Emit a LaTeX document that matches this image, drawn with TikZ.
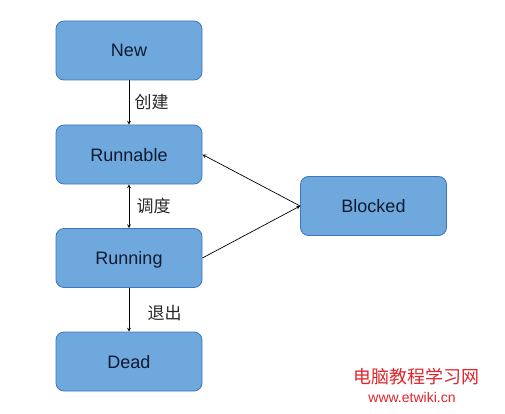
\documentclass[tikz,border=0pt]{standalone}
\usepackage{fontspec}
\setmainfont{Liberation Sans}
\newfontfamily\cjk{Noto Sans CJK SC}
\usetikzlibrary{arrows}
\usetikzlibrary{calc}

\definecolor{boxfill}{HTML}{6FA8DC}
\definecolor{boxline}{HTML}{3D78BE}
\definecolor{boxtext}{HTML}{101A30}
\definecolor{markred}{HTML}{E0242B}

\tikzset{
  state/.style={draw=boxline, fill=boxfill, rounded corners=8pt, line width=0.8pt,
    minimum width=146pt, minimum height=59pt, inner sep=0pt, text=boxtext,
    text height=13pt, text depth=0pt,
    font=\fontsize{18}{20}\selectfont},
  trans/.style={line width=0.7pt, ->, >=stealth},
  translabel/.style={font=\cjk\fontsize{17}{19}\selectfont, text=black!85}
}

\begin{document}
\begin{tikzpicture}[x=1pt,y=-1pt]
        \useasboundingbox (0,0) rectangle (505,414);

        \node[state] (new) at (129,50.5) {New};
        \node[state] (runnable) at (129,154.5) {Runnable};
        \node[state] (running) at (129,258) {Running};
        \node[state] (dead) at (129,361.5) {Dead};
        \node[state] (blocked) at (373.5,206) {Blocked};

        \draw[trans] (new) -- (runnable) node[translabel,midway,right,xshift=2pt] {创建};
        \draw[trans,<->] (runnable) -- (running) node[translabel,midway,right,xshift=4pt] {调度};
        \draw[trans] (running) -- (dead) node[translabel,midway,right,xshift=15pt,yshift=-3pt] {退出};

        \draw[trans] (blocked.west) -- (runnable.east);
        \draw[trans] (running.east) -- (blocked.west);

        % watermark
        \node[font=\cjk\fontsize{18}{20}\selectfont, text=markred] (mark) at (416,377) {电脑教程学习网};
        \node[font=\fontsize{14}{16}\selectfont, text=markred] (url) at (412,397) {www.etwiki.cn};
      \end{tikzpicture}
\end{document}
